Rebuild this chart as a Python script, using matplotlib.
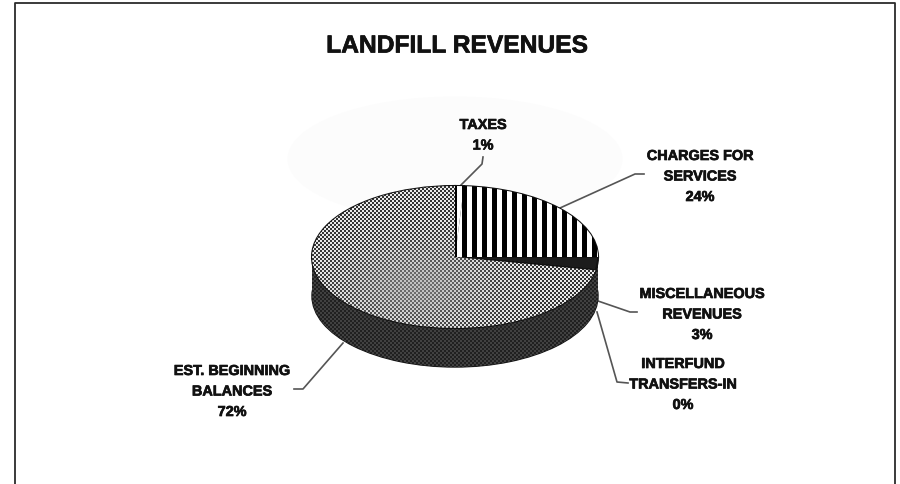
import numpy as np
import matplotlib
matplotlib.use('Agg')
import matplotlib.pyplot as plt
import matplotlib.patheffects as pe
from matplotlib.patches import Rectangle, Ellipse

plt.rcParams['font.family'] = ['Liberation Sans', 'DejaVu Sans']

# slices, clockwise from 12 o'clock
categories = ["TAXES", "CHARGES FOR\nSERVICES", "MISCELLANEOUS\nREVENUES",
              "INTERFUND\nTRANSFERS-IN", "EST. BEGINNING\nBALANCES"]
shares = [1, 24, 3, 0, 72]

# label centre x, first line y (pixels)
label_pos = [(483, 124), (700, 155), (702, 293), (683, 363), (232, 370)]
# leader lines (pixels)
leaders = [[(460, 187), (482, 165), (483, 158)],
           [(560, 209), (635, 175), (644, 175)],
           [(598, 302), (630, 313), (637, 313)],
           [(597, 313), (617, 383), (628, 384)],
           [(343, 344), (303, 390), (294, 390)]]

fig = plt.figure(figsize=(9, 4.85), dpi=100)
bg = fig.add_axes([0, 0, 1, 1])
bg.set_xlim(0, 900)
bg.set_ylim(485, 0)
bg.axis('off')

# scanned page frame, open at the bottom
bg.plot([14.5, 14.5, 895, 895], [485, 4, 4, 485], color='#2b2b2b', lw=1.3)

# faint show-through from the other side of the page
bg.add_patch(Ellipse((455, 160), 335, 125, color='#fcfcfc', lw=0))

heavy = [pe.withStroke(linewidth=0.5, foreground='#111111')]
bg.text(457, 46.5, "LANDFILL REVENUES", ha='center', va='center', fontsize=17.7,
        fontweight='bold', color='#111111', path_effects=heavy)

for cat, share, (x, y) in zip(categories, shares, label_pos):
    lines = cat.split("\n") + [f"{share}%"]
    for i, line in enumerate(lines):
        bg.text(x, y + 2 + i * 20.5, line, ha='center', va='center', fontsize=10.4,
                fontweight='bold', color='#111111', path_effects=heavy)

for pts in leaders:
    xs, ys = zip(*pts)
    bg.plot(xs, ys, color='#555555', lw=1.2)

# pie: 286 x 142 px top ellipse with 39 px of side below it
depth = 39 / 71
ax = fig.add_axes([312 / 900, (485 - 368) / 485, 286 / 900, 181 / 485])
side, _ = ax.pie([1], radius=1, center=(0, -depth), colors=['#262626'],
                 wedgeprops={'edgecolor': '#111111', 'lw': 1})
band = Rectangle((-1, -depth), 2, depth, color='#262626', lw=0)
ax.add_patch(band)
wedges, _ = ax.pie(shares, startangle=90, counterclock=False, radius=1,
                   colors=['white', 'white', '#1c1c1c', '#1c1c1c', '#d8d8d8'],
                   wedgeprops={'edgecolor': '#111111', 'lw': 1.5})
for w in wedges:
    w.set_zorder(4)
ax.set_aspect('auto')

# mottled dark texture on the pie's side
yy, xx = np.mgrid[0:181, 0:286]
side_tex = 0.13 + 0.13 * ((xx // 2 + yy // 2) % 2)
for clip in (side[0], band):
    im = ax.imshow(side_tex, cmap='gray', extent=[-1, 1, -1 - depth, 1], aspect='auto',
                   interpolation='nearest', vmin=0, vmax=1, zorder=3)
    im.set_clip_path(clip)

extent = [-1, 1, -1, 1]

# vertical stripes in taxes and charges wedges
stripes = (np.arange(286) // 5 % 2).astype(float)[None, :]
for w in wedges[:2]:
    im = ax.imshow(stripes, cmap='gray', extent=extent, aspect='auto',
                   interpolation='nearest', vmin=0.05, vmax=1, zorder=5)
    im.set_clip_path(w)

# dither in the balances wedge, washed out towards the middle like the scan
yy, xx = np.mgrid[0:142, 0:286]
dither = ((xx // 2 + yy // 2) % 2).astype(float)
blob = np.exp(-(((xx - 105) / 70.0) ** 2 + ((yy - 100) / 40.0) ** 2))
shade = 0.2 + 0.72 * dither
shade = shade * (1 - 0.55 * blob) + 0.62 * 0.55 * blob
im = ax.imshow(shade, cmap='gray', extent=extent, aspect='auto',
               interpolation='nearest', vmin=0, vmax=1, zorder=5)
im.set_clip_path(wedges[4])

ax.set_xlim(-1, 1)
ax.set_ylim(-1 - depth, 1)
ax.axis('off')

fig.savefig("out.png", dpi=100)
